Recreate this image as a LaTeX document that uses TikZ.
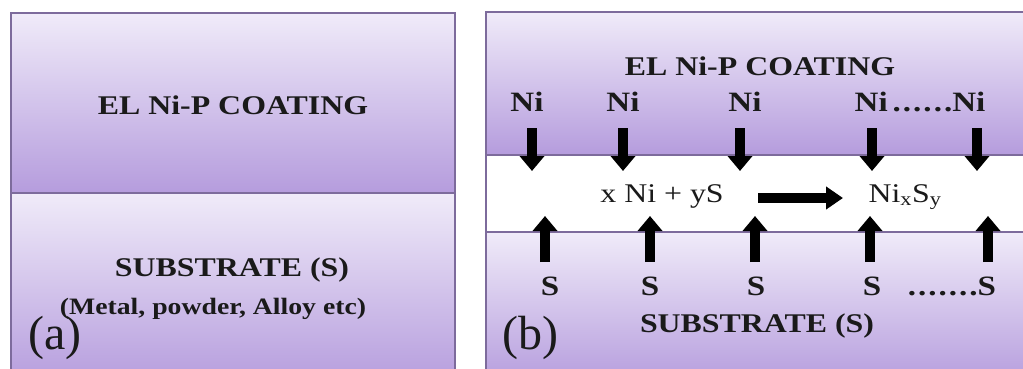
\documentclass[tikz,border=0pt]{standalone}
\usepackage{fontspec}
\setmainfont[FakeStretch=1.18]{Liberation Serif}
\newfontfamily\plainserif{Liberation Serif}
\usetikzlibrary{arrows.meta}
\definecolor{lite}{HTML}{F0EBF9}
\definecolor{deep}{HTML}{B59CDD}
\definecolor{edgec}{HTML}{7D6B9C}
\definecolor{txt}{HTML}{1A1A1A}
\newcommand{\dt}{.\kern2pt}
\tikzset{
  bt/.style={font=\fontsize{27}{30}\selectfont\bfseries, text=txt, inner sep=0pt, anchor=base},
  lbl/.style={font=\fontsize{28}{30}\selectfont\bfseries, text=txt, inner sep=0pt, anchor=base},
  rt/.style={font=\fontsize{27}{30}\selectfont, text=txt, inner sep=0pt, anchor=base},
  tag/.style={font=\plainserif\fontsize{48}{50}\selectfont, text=txt, inner sep=0pt, anchor=base},
  layer/.style={top color=lite, bottom color=deep},
  frame/.style={draw=edgec, line width=1.6pt},
  blk/.style={line width=10pt, -{Triangle[width=24pt,length=15pt]}},
  harrow/.style={line width=10pt, -{Triangle[width=22pt,length=17pt]}}
}
\begin{document}
\begin{tikzpicture}[x=1pt,y=-1pt]
\useasboundingbox (0,0) rectangle (1023,369);
\fill[white] (0,0) rectangle (1023,369);
\begin{scope}
\clip (0,0) rectangle (1023,369);
% panel (a)
\fill[layer] (11,13) rectangle (455,193);
\fill[layer] (11,193) rectangle (455,385);
\draw[frame] (11,390) -- (11,13) -- (455,13) -- (455,390);
\draw[frame] (11,193) -- (455,193);
% panel (b)
\fill[layer] (486,12) rectangle (1040,155);
\fill[white] (486,155) rectangle (1040,232);
\fill[layer] (486,232) rectangle (1040,385);
\draw[frame] (486,390) -- (486,12) -- (1040,12);
\draw[draw=edgec, line width=2.4pt] (486,155) -- (1040,155);
\draw[draw=edgec, line width=2.4pt] (486,232) -- (1040,232);
\end{scope}

% texts (a)
\node[bt] (acoat) at (233,114) {EL Ni-P COATING};
\node[bt] (asub) at (232,276) {SUBSTRATE (S)};
\node[bt, font=\fontsize{23.5}{26}\selectfont\bfseries] (ametal) at (213,314) {(Metal, powder, Alloy etc)};
\node[tag] (atag) at (55,349) {(a)};

% texts (b)
\node[bt] (bcoat) at (760,75) {EL Ni-P COATING};
\node[lbl] (ni1) at (527,111) {Ni};
\node[lbl] (ni2) at (623,111) {Ni};
\node[lbl] (ni3) at (745,111) {Ni};
\node[lbl] (ni4) at (920,111) {Ni\hspace{5pt}\dt\dt\dt\dt\dt.Ni};
\node[lbl] (s1) at (550,295) {S};
\node[lbl] (s2) at (650,295) {S};
\node[lbl] (s3) at (756,295) {S};
\node[lbl] (s4) at (872,295) {S};
\node[lbl] (s5) at (952,295) {\dt\dt\dt\dt\dt\dt.S};
\node[bt] (bsub) at (757,332) {SUBSTRATE (S)};
\node[tag] (btag) at (530,349) {(b)};
\node[rt] (lhs) at (662,202) {x Ni + yS};
\node[rt] (rhs) at (905,202) {Ni\textsubscript{x}S\textsubscript{y}};

% down arrows
\foreach \i/\x in {1/532,2/623,3/740,4/872,5/977}{
  \coordinate (dtop\i) at (\x,128);
  \coordinate (dtip\i) at (\x,171);
  \draw[blk] (dtop\i) -- (dtip\i);
}
% up arrows
\foreach \i/\x in {1/545,2/650,3/755,4/870,5/988}{
  \coordinate (ubot\i) at (\x,262);
  \coordinate (utip\i) at (\x,216);
  \draw[blk] (ubot\i) -- (utip\i);
}
% reaction arrow
\coordinate (rs) at (758,198);
\coordinate (re) at (843,198);
\draw[harrow] (rs) -- (re);
\end{tikzpicture}
\end{document}
